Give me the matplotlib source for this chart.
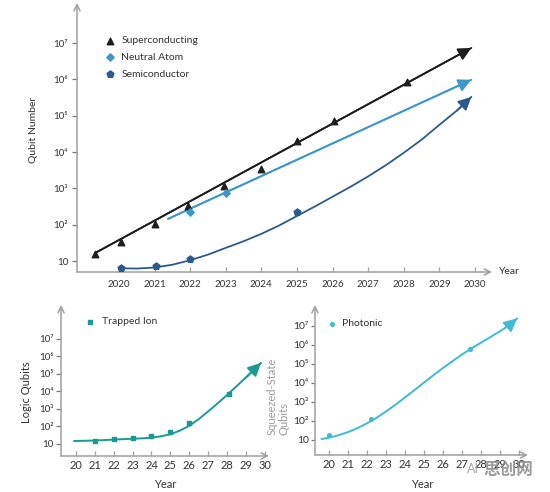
import numpy as np
import matplotlib
matplotlib.use("Agg")
import matplotlib.pyplot as plt

plt.rcParams['font.family'] = ['Lato', 'DejaVu Sans']

# ---------------- data ----------------
# Main chart (physical qubits)
sc_years = [2019.33, 2020.05, 2021.0, 2021.95, 2022.95, 2024.0, 2025.0, 2026.05, 2028.1]
sc_vals = [16, 33, 105, 330, 1150, 3400, 20000, 72000, 850000]
sc_trend_years = [2019.33, 2029.9]
sc_trend_vals = [16.6, 7.4e6]

na_years = [2022.0, 2023.0]
na_vals = [220, 740]
na_trend_years = [2021.38, 2029.9]
na_trend_vals = [145, 9.8e5]

semi_years = [2020.05, 2021.05, 2022.0, 2025.0]
semi_vals = [6.5, 7.2, 11, 220]
semi_trend_years = [2020.0, 2020.5, 2021.0, 2021.5, 2022.0, 2022.5, 2023.0, 2023.5, 2024.0,
                    2024.5, 2025.0, 2025.5, 2026.0, 2026.5, 2027.0, 2027.5, 2028.0, 2028.5,
                    2029.0, 2029.5, 2029.9]
semi_trend_vals = [6.3, 6.2, 6.6, 7.9, 10.5, 15, 23, 35, 56, 95, 174, 316, 590, 1100, 2140,
                   4370, 9550, 21900, 56200, 141000, 331000]

main_xticks = [2020, 2021, 2022, 2023, 2024, 2025, 2026, 2027, 2028, 2029, 2030]
log_ticks = [10, 1e2, 1e3, 1e4, 1e5, 1e6, 1e7]
log_labels = ['10', '10²', '10³', '10⁴', '10⁵', '10⁶', '10⁷']

# Trapped ion (logic qubits)
ti_years = [21, 22, 23, 24, 25, 26, 28.1]
ti_vals = [15, 19, 22, 29, 49, 160, 7000]
ti_trend_years = [19.9, 21, 22, 23, 23.5, 24, 24.5, 25, 25.5, 26, 26.5, 27, 27.5, 28, 28.5, 29, 29.8]
ti_trend_vals = [14.8, 15.8, 17.8, 20, 21, 23, 27.5, 36, 58, 110, 263, 725, 2090, 6300, 20000,
                 63000, 430000]

# Photonic (squeezed-state qubits)
ph_years = [20.0, 22.2, 27.4]
ph_vals = [18, 126, 6.0e5]
ph_trend_years = [19.6, 20.0, 20.5, 21, 21.5, 22, 22.5, 23, 23.5, 24, 24.5, 25, 25.5, 26, 26.5,
                  27, 27.5, 28, 28.5, 29, 29.5, 29.9]
ph_trend_vals = [11.2, 13.2, 17.8, 26, 42, 76, 148, 316, 725, 1740, 4270, 10500, 25700, 61700,
                 141000, 316000, 661000, 1.32e6, 2.63e6, 5.25e6, 1.12e7, 2.5e7]
small_xticks = [20, 21, 22, 23, 24, 25, 26, 27, 28, 29, 30]
small_xlabels = ['20', '21', '22', '23', '24', '25', '26', '27', '28', '29', '30']

# ---------------- style ----------------
C_SC = '#1e1e1e'
C_NA = '#3a98cc'
C_SEMI = '#2c5a8c'
C_TI = '#1a9a94'
C_PH = '#3cbcd6'
AX_C = '#a0a0a0'
TXT = '#333333'

W, H = 550, 492
fig = plt.figure(figsize=(W / 100, H / 100), dpi=100)


def px_axes(l, t, r, b):
    return fig.add_axes([l / W, 1 - b / H, (r - l) / W, (b - t) / H])


def style_axes(ax, fs_x, fs_y, xpad, ypad, ytick_len):
    for s in ax.spines.values():
        s.set_visible(False)
    ax.set_yscale('log')
    ax.minorticks_off()
    ax.tick_params(axis='x', direction='in', length=3.5, width=0.9, color=AX_C,
                   labelsize=fs_x, labelcolor=TXT, pad=xpad)
    ax.tick_params(axis='y', direction='out', length=ytick_len, width=0.9, color='#777777',
                   labelsize=fs_y, labelcolor=TXT, pad=ypad)
    ax.patch.set_alpha(0)
    # axis arrows
    ax.annotate('', xy=(0, 1), xytext=(0, 0), xycoords='axes fraction',
                arrowprops=dict(arrowstyle='->', color=AX_C, lw=1.1, shrinkA=0, shrinkB=0,
                                mutation_scale=11))
    ax.annotate('', xy=(1, 0), xytext=(0, 0), xycoords='axes fraction',
                arrowprops=dict(arrowstyle='->', color=AX_C, lw=1.1, shrinkA=0, shrinkB=0,
                                mutation_scale=11))


def trend(ax, xs, ys, color, lw=1.3, ms=13):
    ax.plot(xs, ys, color=color, lw=lw, solid_capstyle='round', solid_joinstyle='round', zorder=2)
    ax.annotate('', xy=(xs[-1], ys[-1]), xytext=(xs[-2], ys[-2]),
                arrowprops=dict(arrowstyle='-|>,head_length=0.6,head_width=0.3', color=color,
                                lw=lw, shrinkA=0, shrinkB=0, mutation_scale=ms), zorder=3)


# ---------------- main chart ----------------
ax = px_axes(77, 3, 492, 272)
style_axes(ax, 7, 7, 6, 3, 3.5)
ax.set_xlim(2018.82, 2030.48)
ax.set_ylim(10 ** 0.697, 10 ** 8.107)
ax.set_xticks(main_xticks)
ax.set_xticklabels([str(v) for v in main_xticks])
ax.set_yticks(log_ticks)
ax.set_yticklabels(log_labels)

trend(ax, sc_trend_years, sc_trend_vals, C_SC)
trend(ax, na_trend_years, na_trend_vals, C_NA)
trend(ax, semi_trend_years, semi_trend_vals, C_SEMI)
h1 = ax.scatter(sc_years, sc_vals, marker='^', s=22, color=C_SC, zorder=4, label='Superconducting')
h2 = ax.scatter(na_years, na_vals, marker='D', s=14, color=C_NA, zorder=4, label='Neutral Atom')
h3 = ax.scatter(semi_years, semi_vals, marker='p', s=26, color=C_SEMI, zorder=4, label='Semiconductor')
ax.legend(handles=[h1, h2, h3], frameon=False, loc='upper left',
          bbox_to_anchor=(105 / W, 1 - 36 / H), bbox_transform=fig.transFigure,
          fontsize=7.5, labelspacing=0.72, handletextpad=0.55, handlelength=1.0,
          borderpad=0, borderaxespad=0, scatterpoints=1, labelcolor=TXT)

fig.text(33 / W, 1 - 130 / H, 'Qubit Number', rotation=90, ha='center', va='center',
         fontsize=7.5, color=TXT)
fig.text(499 / W, 1 - 272 / H, 'Year', ha='left', va='center', fontsize=7.5, color=TXT)

# ---------------- trapped ion ----------------
ax2 = px_axes(61, 305, 269, 456)
style_axes(ax2, 8, 7, 3, 2, 3.5)
ax2.set_xlim(19.21, 30.22)
ax2.set_ylim(10 ** 0.314, 10 ** 8.94)
ax2.set_xticks(small_xticks)
ax2.set_xticklabels(small_xlabels)
ax2.set_yticks(log_ticks)
ax2.set_yticklabels(log_labels)
trend(ax2, ti_trend_years, ti_trend_vals, C_TI, lw=1.4)
h4 = ax2.scatter(ti_years, ti_vals, marker='s', s=8, color=C_TI, zorder=4, label='Trapped Ion')
ax2.legend(handles=[h4], frameon=False, loc='upper left',
           bbox_to_anchor=(85 / W, 1 - 317 / H), bbox_transform=fig.transFigure,
           fontsize=7.5, handletextpad=0.6, handlelength=1.0,
           borderpad=0, borderaxespad=0, scatterpoints=1, labelcolor=TXT)
fig.text(27 / W, 1 - 392 / H, 'Logic Qubits', rotation=90, ha='center', va='center',
         fontsize=8, color=TXT)
fig.text(165 / W, 1 - 484 / H, 'Year', ha='center', va='center', fontsize=8, color=TXT)

# ---------------- photonic ----------------
ax3 = px_axes(315, 305, 528, 455)
style_axes(ax3, 8, 7.5, 3, 1.5, 3)
ax3.set_xlim(19.26, 30.47)
ax3.set_ylim(10 ** 0.21, 10 ** 8.1)
ax3.set_xticks(small_xticks)
ax3.set_xticklabels(small_xlabels)
ax3.set_yticks(log_ticks)
ax3.set_yticklabels(log_labels)
trend(ax3, ph_trend_years, ph_trend_vals, C_PH, lw=1.4)
h5 = ax3.scatter(ph_years, ph_vals, marker='o', s=7, color=C_PH, zorder=4, label='Photonic')
ax3.legend(handles=[h5], frameon=False, loc='upper left',
           bbox_to_anchor=(327 / W, 1 - 319 / H), bbox_transform=fig.transFigure,
           fontsize=7.5, handletextpad=0.4, handlelength=1.0,
           borderpad=0, borderaxespad=0, scatterpoints=1, labelcolor=TXT)
fig.text(272 / W, 1 - 435 / H, 'Squeezed-State', rotation=90, ha='center', va='bottom',
         fontsize=8, color='#9a9a9a')
fig.text(284 / W, 1 - 435 / H, 'Qubits', rotation=90, ha='center', va='bottom',
         fontsize=8, color='#9a9a9a')
fig.text(422 / W, 1 - 484 / H, 'Year', ha='center', va='center', fontsize=8, color=TXT)

# watermark
fig.text(467 / W, 1 - 469 / H, 'AI', ha='left', va='center', fontsize=9, color='#9a9a9a', alpha=0.9)
fig.text(483 / W, 1 - 470 / H, '思创网', ha='left', va='center', fontsize=12, fontweight='bold',
         color='#8a8a8a', alpha=0.85, family=['Noto Sans CJK SC', 'DejaVu Sans'])

fig.savefig('out.png', dpi=100)
